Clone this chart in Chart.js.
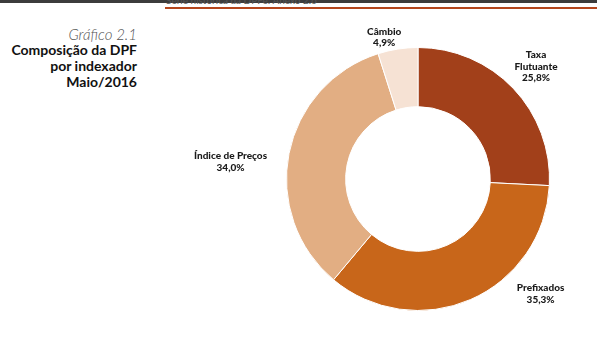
<!DOCTYPE html>
<html>
<head>
<meta charset="utf-8">
<script src="https://cdn.jsdelivr.net/npm/chart.js@4"></script>
<style>
  body { margin: 0; width: 597px; height: 345px; background: #fff; position: relative; overflow: hidden; font-family: Lato, "Open Sans", sans-serif; }
  #topbar { position: absolute; left: 0; top: 0; width: 597px; height: 3px; background: #3c3c3c; }
  #header { position: absolute; left: 166px; top: -6px; font-size: 10px; color: #555; white-space: nowrap; }
  #rule { position: absolute; left: 165px; top: 7px; width: 432px; height: 2px; background: #b4461c; }
  #title { position: absolute; right: 460px; top: 26px; text-align: right; font-size: 14px; line-height: 16px; color: #111; }
  #title .it { font-style: italic; font-weight: 300; color: #555; font-size: 15px; }
  #title .b { font-weight: 700; }
  #wrap { position: absolute; left: 0; top: 0; width: 597px; height: 345px; }
</style>
</head>
<body>
<div id="topbar"></div>
<div id="header">Série histórica da DPFe: Anexo 2.6</div>
<div id="rule"></div>
<div id="title">
  <div class="it">Gráfico 2.1</div>
  <div class="b">Composição da DPF</div>
  <div class="b">por indexador</div>
  <div class="b">Maio/2016</div>
</div>
<div id="wrap"><canvas id="pieChart"></canvas></div>
<script>
// Composição da DPF por indexador - Maio/2016
const categories = [["Taxa", "Flutuante"], ["Prefixados"], ["Índice de Preços"], ["Câmbio"]];
const shares = [25.8, 35.3, 34.0, 4.9];
const sliceColors = ["#a2401a", "#c8661a", "#e2ae83", "#f6e2d4"];
// label nudges (px) from the radial anchor
const labelNudge = [[1, -1], [58, -33], [-29, 14], [-9, 18]];

const sliceLabels = {
    id: "sliceLabels",
    afterDatasetsDraw(chart) {
        const ctx = chart.ctx;
        const meta = chart.getDatasetMeta(0);
        ctx.save();
        ctx.fillStyle = "#1a1a1a";
        ctx.textAlign = "center";
        ctx.textBaseline = "middle";
        ctx.font = "900 10px Lato, sans-serif";
        meta.data.forEach((arc, i) => {
            const mid = (arc.startAngle + arc.endAngle) / 2;
            const r = arc.outerRadius + 30;
            const x = arc.x + Math.cos(mid) * r + labelNudge[i][0];
            const y = arc.y + Math.sin(mid) * r + labelNudge[i][1];
            const lines = categories[i].concat([shares[i].toFixed(1).replace(".", ",") + "%"]);
            const lh = 11.5;
            const top = y - (lines.length - 1) * lh / 2;
            lines.forEach((t, k) => ctx.fillText(t, x, top + k * lh));
        });
        ctx.restore();
    }
};

new Chart(document.getElementById("pieChart"), {
    type: "doughnut",
    data: {
        labels: categories.map(c => c.join(" ")),
        datasets: [{
            data: shares,
            backgroundColor: sliceColors,
            borderColor: "#ffffff",
            borderWidth: 1
        }]
    },
    options: {
        responsive: true,
        maintainAspectRatio: false,
        animation: false,
        cutout: "55%",
        layout: { padding: { left: 286, right: 47, top: 47, bottom: 34 } },
        plugins: {
            legend: { display: false },
            tooltip: { enabled: false }
        }
    },
    plugins: [sliceLabels]
});
</script>
</body>
</html>
